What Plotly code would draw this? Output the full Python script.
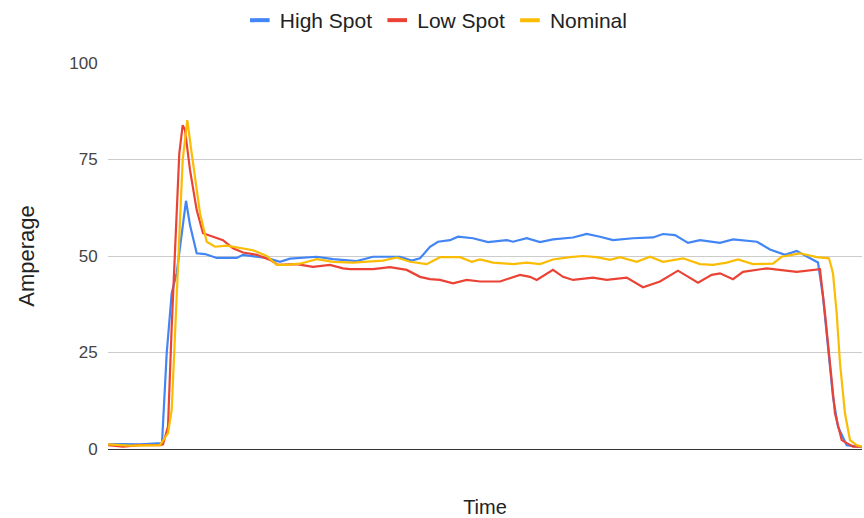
import plotly.graph_objects as go

# Time (arbitrary units) and Amperage values
high_time = [0, 12, 32, 52, 54, 58.7, 63.7, 68.7, 72, 78, 82, 88.7, 97, 108.7, 128.7, 135, 158.7, 172, 182,
             208.7, 225, 248.7, 265, 292, 303.7, 312, 322, 330, 342, 350, 365, 380, 398.7, 405, 418.7, 432,
             445, 465, 478.7, 492, 505, 525, 545, 555, 567, 580, 592, 612, 625, 649, 662, 677, 688.7, 702,
             710, 715, 720, 725, 730, 738.7, 754]
high_vals = [1.2, 1.3, 1.2, 1.3, 1.5, 24.8, 40.4, 45.6, 52.0, 64.3, 58.0, 50.7, 50.5, 49.5, 49.5, 50.3, 49.5,
             48.5, 49.3, 49.8, 49.2, 48.7, 49.8, 49.8, 48.8, 49.4, 52.4, 53.7, 54.1, 55.0, 54.6, 53.6, 54.1,
             53.7, 54.6, 53.6, 54.3, 54.8, 55.7, 55.0, 54.1, 54.6, 54.8, 55.7, 55.4, 53.4, 54.1, 53.4, 54.3,
             53.7, 51.7, 50.3, 51.3, 49.4, 48.3, 39.5, 26.5, 13.5, 5.8, 1.0, 0.5]

low_time = [0, 15, 32, 52, 55, 60, 63.7, 68, 71.3, 74.7, 77, 82, 88.7, 95, 105, 115, 125, 135, 148.7, 162,
            170, 188.7, 205, 222, 235, 242, 265, 282, 298.7, 312, 322, 332, 345, 358.7, 372, 392, 412, 422,
            428.7, 445, 455, 465, 485, 498.7, 518.7, 535, 552, 570, 590, 603.7, 612, 625, 635, 658.7, 688.7,
            712, 717, 722, 727, 733.7, 745, 754]
low_vals = [1.0, 0.6, 1.0, 1.0, 1.2, 5.8, 31.7, 57.6, 76.6, 83.9, 82.6, 72.3, 61.9, 55.9, 55.0, 54.1, 52.0,
            50.9, 50.3, 49.0, 47.7, 47.9, 47.2, 47.7, 46.8, 46.6, 46.6, 47.1, 46.4, 44.6, 44.0, 43.8, 42.9,
            43.8, 43.4, 43.4, 45.1, 44.6, 43.8, 46.4, 44.6, 43.8, 44.4, 43.8, 44.4, 41.9, 43.4, 46.2, 43.1,
            45.1, 45.5, 44.0, 45.9, 46.8, 45.9, 46.6, 35.1, 22.2, 9.2, 2.3, 0.6, 0.6]

nom_time = [0, 22, 52, 60, 63.7, 67, 70.3, 74.7, 79.3, 83.7, 92, 98.7, 107, 118.7, 132, 145, 158.7, 168.7,
            178.7, 192, 208.7, 225, 245, 262, 275, 288.7, 302, 318.7, 332, 352, 363.7, 372, 385, 405, 418.7,
            432, 445, 462, 475, 488.7, 502, 512, 528.7, 542, 555, 575, 592, 605, 618.7, 630, 645, 665, 673.7,
            692, 708.7, 721, 725, 728.7, 732, 737, 742, 748.7, 754]
nom_vals = [1.2, 0.9, 1.0, 4.1, 10.1, 31.7, 49.0, 74.9, 85.2, 76.6, 61.1, 53.7, 52.4, 52.7, 52.0, 51.5, 50.0,
            47.7, 47.7, 48.0, 49.2, 48.5, 48.3, 48.5, 48.8, 49.6, 48.5, 47.9, 49.7, 49.7, 48.5, 49.1, 48.3,
            47.9, 48.3, 47.9, 49.1, 49.7, 50.0, 49.7, 49.0, 49.7, 48.5, 49.8, 48.5, 49.4, 47.9, 47.7, 48.3,
            49.1, 47.9, 48.0, 49.8, 50.7, 49.7, 49.4, 45.5, 35.1, 22.2, 9.2, 2.3, 1.0, 0.6]

series = [
    ("High Spot", high_time, high_vals, "#4285F4"),
    ("Low Spot", low_time, low_vals, "#EA4335"),
    ("Nominal", nom_time, nom_vals, "#FBBC04"),
]

y_ticks = [0, 25, 50, 75, 100]

fig = go.Figure()
for name, t, v, c in series:
    fig.add_trace(go.Scatter(x=t, y=v, mode="lines", name=name, legendgroup=name,
                             showlegend=False, line=dict(color=c, width=2.2)))
for name, t, v, c in series:
    fig.add_trace(go.Scatter(x=[None], y=[None], mode="markers", name=name, legendgroup=name,
                             marker=dict(symbol="line-ew-open", size=14, color=c,
                                         line=dict(color=c, width=4))))

fig.update_layout(
    width=864, height=518,
    margin=dict(l=108, r=2, t=63, b=69),
    paper_bgcolor="white", plot_bgcolor="white",
    font=dict(family="Arial, Liberation Sans, sans-serif", color="#222222"),
    legend=dict(orientation="h", xref="container", yref="container", x=0.505, y=1.0,
                xanchor="center", yanchor="top", font=dict(size=21, color="#222222"),
                itemwidth=30, tracegroupgap=0),
    xaxis=dict(range=[0, 754], showticklabels=False, showgrid=False, zeroline=False,
               showline=False, title=dict(text="Time", font=dict(size=20, color="#222222"), standoff=50)),
    yaxis=dict(range=[0, 100], tickvals=y_ticks, showgrid=True, gridcolor="#cccccc", gridwidth=1,
               zeroline=True, zerolinecolor="#333333", zerolinewidth=1,
               ticks="outside", ticklen=6, tickcolor="rgba(0,0,0,0)",
               tickfont=dict(size=17, color="#444444"),
               title=dict(text="Amperage", font=dict(size=22, color="#222222"), standoff=28)),
)

fig.write_html("out.html")
